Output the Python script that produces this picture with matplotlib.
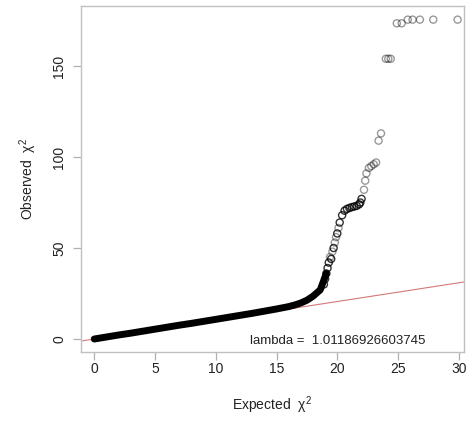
import matplotlib
matplotlib.use("Agg")
import matplotlib.pyplot as plt

plt.rcParams['font.family'] = ['Liberation Sans', 'DejaVu Sans']
plt.rcParams['mathtext.fontset'] = 'custom'
plt.rcParams['mathtext.rm'] = 'Liberation Sans'
plt.rcParams['mathtext.it'] = 'Liberation Sans'

# dense part of the QQ band (expected, observed)
band_exp = [0, 1, 2, 3, 4, 5, 6, 7, 8, 9, 10, 11, 12, 13, 14, 15, 16,
            16.5, 17, 17.5, 18, 18.6, 19.1]
band_obs = [0, 1.1, 2.2, 3.2, 4.3, 5.4, 6.5, 7.6, 8.6, 9.7, 10.8, 11.9,
            13.0, 14.1, 15.3, 16.5, 17.8, 18.7, 19.8, 21.3, 23.5, 27.0, 36.0]

# tail points drawn darker (crowded)
dark_exp = [18.9, 19.0, 19.1, 19.2, 19.3, 19.5, 19.7, 20.0, 20.2, 20.4,
            20.6, 20.8, 21.0, 21.2, 21.4, 21.6, 21.8, 21.9, 22.0]
dark_obs = [30, 33, 36, 39, 42, 44, 50, 58, 64, 68,
            70.5, 71.5, 72, 72.5, 72.8, 73.2, 74, 75, 77]

# sparser tail points (lighter)
light_exp = [19.4, 19.6, 19.8, 19.9, 20.1, 22.2, 22.3, 22.4, 22.6, 22.8,
             23.0, 23.2, 23.4, 23.6, 24.0, 24.2, 24.4, 24.9, 25.3, 25.8,
             26.2, 26.8, 27.9, 29.9]
light_obs = [45, 48, 53, 56, 61, 82, 87, 91, 94, 95,
             96, 97, 109, 113, 154, 154, 154, 173.5, 173.5, 175.5,
             175.5, 175.5, 175.5, 175.5]

lam = 1.01186926603745
line_slope = 1.03

fig = plt.figure(figsize=(4.74, 4.21), dpi=100)
ax = fig.add_axes([81/474, 1 - 352/421, (464 - 81)/474, (352 - 6)/421])

ax.axline((0, 0), slope=line_slope, color='#d47878', lw=0.8, zorder=1)
ax.plot(band_exp, band_obs, color='black', lw=5.0, solid_capstyle='round',
        solid_joinstyle='round', zorder=2)
ax.scatter(dark_exp, dark_obs, s=26, facecolors='none', edgecolors='black',
           lw=1, alpha=0.8, zorder=3)
ax.scatter(light_exp, light_obs, s=26, facecolors='none', edgecolors='black',
           lw=1, alpha=0.4, zorder=3)

ax.text(20, -1, 'lambda =  ' + repr(lam), ha='center', va='center',
        fontsize=9.5, color='#222222')

ax.set_xlim(-1.09, 30.43)
ax.set_ylim(-7.14, 183)
ax.set_xticks([0, 5, 10, 15, 20, 25, 30])
ax.set_yticks([0, 50, 100, 150])
for lab in ax.get_yticklabels():
    lab.set_rotation(90)
    lab.set_va('center')
ax.tick_params(direction='out', length=5.5, width=0.9, color='#b0b0b0',
               labelsize=10, labelcolor='#222222', pad=1.5)
ax.tick_params(axis='y', pad=5)
for sp in ax.spines.values():
    sp.set_color('#c0c0c0')
    sp.set_linewidth(1)

ax.set_xlabel(r'Expected  $\chi^2$', fontsize=10, color='#222222', labelpad=13.5)
ax.set_ylabel(r'Observed  $\chi^2$', fontsize=10, color='#222222', labelpad=9.5)

fig.savefig('out.png', dpi=100)
